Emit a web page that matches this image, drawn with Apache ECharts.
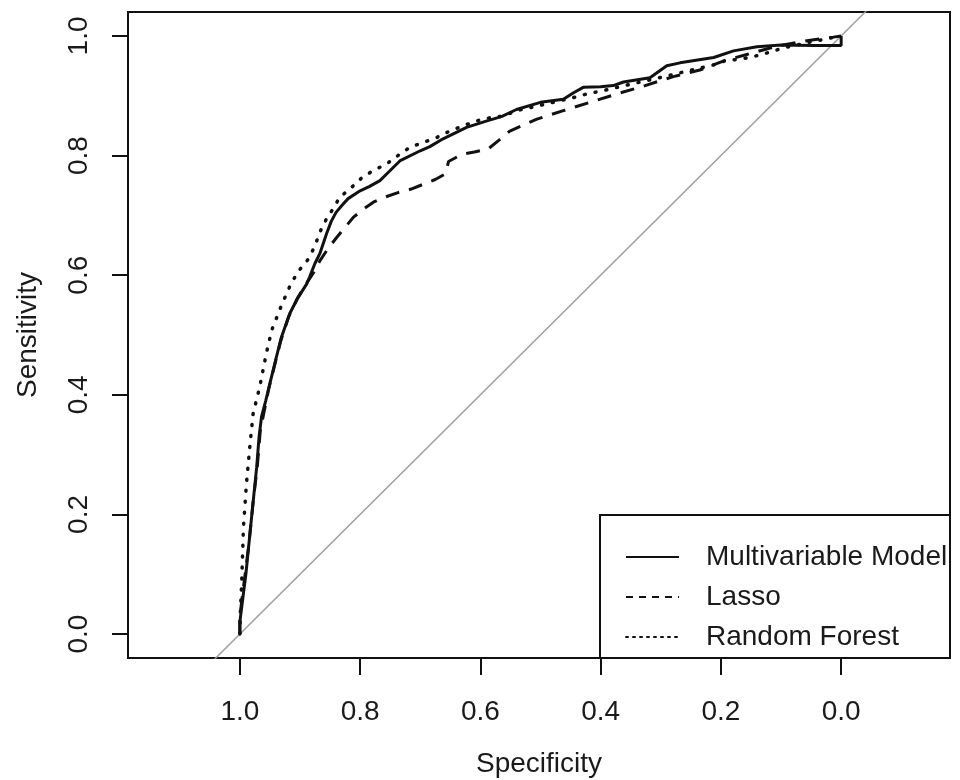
<!DOCTYPE html>
<html>
<head>
<meta charset="utf-8">
<script src="https://cdn.jsdelivr.net/npm/echarts@6/dist/echarts.min.js"></script>
<style>html,body{margin:0;padding:0;background:#fff}#c{width:960px;height:780px}</style>
</head>
<body>
<div id="c"></div>
<script>
const tickValues = [0, 0.2, 0.4, 0.6, 0.8, 1.0];
const seriesNames = ['Multivariable Model', 'Lasso', 'Random Forest'];

const mvSpec = [1.0,1.0,0.995,0.99,0.986,0.979,0.972,0.968,0.964,0.957,0.95,0.94,0.931,0.917,0.903,0.889,0.884,0.875,0.867,0.856,0.848,0.84,0.83,0.82,0.80,0.785,0.767,0.75,0.734,0.70,0.684,0.662,0.623,0.589,0.565,0.54,0.50,0.462,0.445,0.429,0.40,0.379,0.362,0.318,0.29,0.268,0.212,0.179,0.14,0.10,0.046,0.0,0.0];
const mvSens = [0,0.02,0.06,0.10,0.14,0.21,0.279,0.33,0.363,0.39,0.419,0.46,0.496,0.536,0.563,0.585,0.597,0.62,0.636,0.669,0.69,0.705,0.717,0.728,0.741,0.748,0.758,0.775,0.791,0.808,0.815,0.828,0.847,0.858,0.865,0.877,0.889,0.894,0.905,0.914,0.915,0.917,0.923,0.93,0.95,0.955,0.964,0.975,0.982,0.985,0.984,0.984,1.0];

const lassoSpec = [1.0,1.0,0.995,0.99,0.985,0.978,0.971,0.966,0.96,0.952,0.942,0.932,0.919,0.905,0.89,0.877,0.867,0.853,0.839,0.825,0.811,0.795,0.778,0.76,0.737,0.715,0.695,0.675,0.659,0.656,0.653,0.631,0.61,0.587,0.57,0.551,0.506,0.462,0.418,0.373,0.326,0.279,0.235,0.196,0.157,0.107,0.057,0.013,0.0];
const lassoSens = [0,0.03,0.07,0.11,0.15,0.22,0.28,0.34,0.37,0.41,0.45,0.49,0.53,0.56,0.585,0.605,0.624,0.645,0.663,0.68,0.697,0.71,0.722,0.73,0.738,0.744,0.752,0.76,0.769,0.777,0.79,0.802,0.806,0.811,0.825,0.841,0.861,0.875,0.889,0.903,0.917,0.932,0.943,0.958,0.969,0.983,0.992,0.998,1.0];

const rfSpec = [1.0,0.999,0.997,0.994,0.989,0.983,0.978,0.967,0.956,0.947,0.931,0.914,0.90,0.886,0.875,0.867,0.856,0.845,0.834,0.814,0.797,0.778,0.756,0.737,0.717,0.695,0.673,0.651,0.628,0.606,0.581,0.562,0.54,0.50,0.445,0.423,0.398,0.351,0.307,0.257,0.21,0.194,0.163,0.14,0.118,0.096,0.05,0.0];
const rfSens = [0,0.04,0.085,0.179,0.252,0.318,0.368,0.413,0.469,0.508,0.549,0.588,0.61,0.627,0.649,0.672,0.694,0.711,0.73,0.747,0.763,0.775,0.786,0.80,0.814,0.822,0.830,0.841,0.85,0.858,0.864,0.866,0.875,0.884,0.897,0.903,0.908,0.919,0.929,0.941,0.952,0.958,0.962,0.967,0.973,0.98,0.99,1.0];

// chance line: sensitivity = 1 - specificity
const chanceSpec = [1.3, -0.3];
const chanceSens = chanceSpec.map(s => 1 - s);

const zip = (a, b) => a.map((v, i) => [v, b[i]]);
const FONT = '"Liberation Sans", Arial, Helvetica, sans-serif';
const TXT = '#1a1a1a';
const noSymbol = {color: 'rgba(0,0,0,0)', borderWidth: 0, borderColor: 'rgba(0,0,0,0)'};

const chart = echarts.init(document.getElementById('c'), null, {renderer: 'canvas'});
chart.setOption({
  animation: false,
  backgroundColor: '#ffffff',
  textStyle: {fontFamily: FONT, color: TXT},
  grid: {left: 128, right: 10, top: 12, bottom: 122, show: true, borderColor: '#111', borderWidth: 2,
    backgroundColor: 'transparent', containLabel: false, outerBoundsMode: 'none'},
  xAxis: {
    type: 'value', min: -0.181, max: 1.186, inverse: true,
    name: 'Specificity', nameLocation: 'middle', nameGap: 92,
    nameTextStyle: {fontSize: 28, color: TXT, fontFamily: FONT},
    axisLine: {show: false, onZero: false},
    splitLine: {show: false},
    axisTick: {show: true, length: 17, inside: false, customValues: tickValues, lineStyle: {color: '#111', width: 2}},
    axisLabel: {show: true, customValues: tickValues, margin: 40, fontSize: 28, color: TXT, fontFamily: FONT,
      formatter: v => v.toFixed(1)}
  },
  yAxis: {
    type: 'value', min: -0.04, max: 1.04,
    name: 'Sensitivity', nameLocation: 'middle', nameGap: 86, nameRotate: 90,
    nameTextStyle: {fontSize: 28, color: TXT, fontFamily: FONT},
    axisLine: {show: false, onZero: false},
    splitLine: {show: false},
    axisTick: {show: true, length: 16, inside: false, customValues: tickValues, lineStyle: {color: '#111', width: 2}},
    axisLabel: {show: true, customValues: tickValues, rotate: 90, margin: 35, fontSize: 28, color: TXT, fontFamily: FONT,
      formatter: v => v.toFixed(1)}
  },
  legend: {
    orient: 'vertical', left: 625, top: 537, itemGap: 0, itemWidth: 53, itemHeight: 14,
    padding: 0,
    itemStyle: noSymbol,
    textStyle: {fontSize: 28, color: TXT, fontFamily: FONT, lineHeight: 40, padding: [0, 0, 0, 22]},
    data: [
      {name: seriesNames[0], itemStyle: noSymbol, lineStyle: {width: 2, type: 'solid', color: '#111'}},
      {name: seriesNames[1], itemStyle: noSymbol, lineStyle: {width: 2, type: [7, 6], color: '#111'}},
      {name: seriesNames[2], itemStyle: noSymbol, lineStyle: {width: 2, type: [2, 5], color: '#111'}}
    ],
    selectedMode: false
  },
  graphic: [{
    type: 'rect', x: 600, y: 515, z: 50, silent: true,
    shape: {x: 0, y: 0, width: 350, height: 143},
    style: {fill: 'none', stroke: '#111', lineWidth: 2}
  }],
  series: [
    {type: 'line', name: 'chance', data: zip(chanceSpec, chanceSens), symbol: 'none', clip: true, z: 1,
      lineStyle: {color: '#a0a0a0', width: 1.5}, silent: true},
    {type: 'line', name: seriesNames[0], data: zip(mvSpec, mvSens), symbol: 'none', clip: true, z: 4,
      lineStyle: {color: '#111', width: 3, type: 'solid'}, itemStyle: {color: '#111'}},
    {type: 'line', name: seriesNames[1], data: zip(lassoSpec, lassoSens), symbol: 'none', clip: true, z: 3,
      lineStyle: {color: '#111', width: 3, type: [14, 10]}, itemStyle: {color: '#111'}},
    {type: 'line', name: seriesNames[2], data: zip(rfSpec, rfSens), symbol: 'none', clip: true, z: 2,
      lineStyle: {color: '#111', width: 3.5, type: [1, 10], cap: 'round'}, itemStyle: {color: '#111'}}
  ]
});
</script>
</body>
</html>
